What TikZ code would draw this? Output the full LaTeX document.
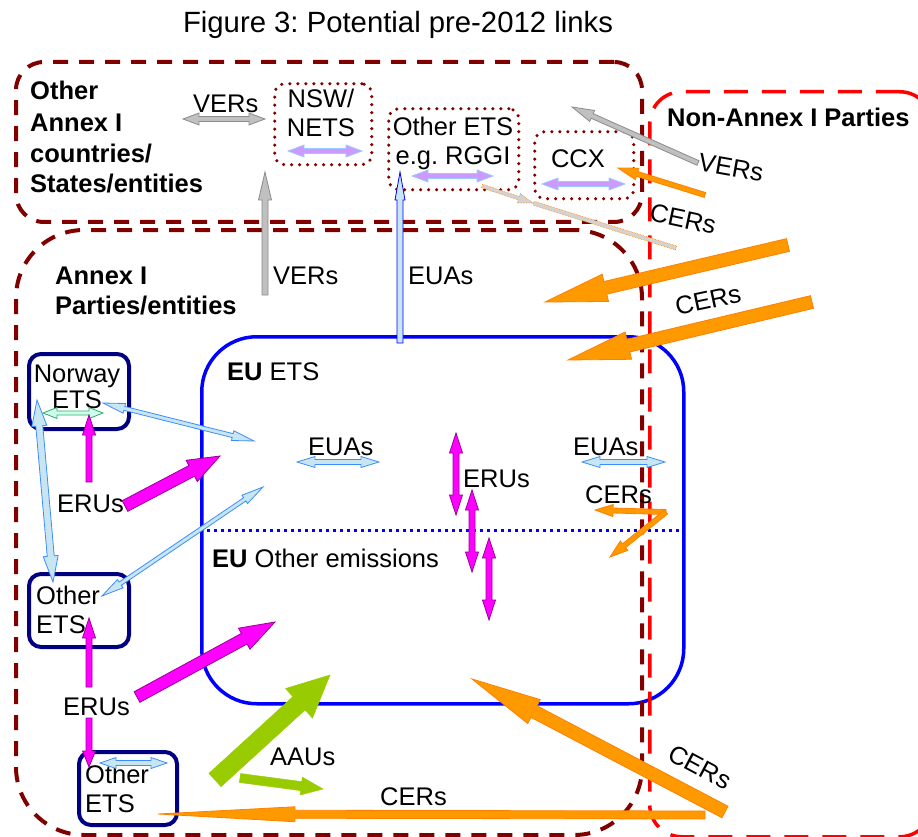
\documentclass[tikz,border=0pt]{standalone}
\usepackage{fontspec}
\setmainfont{Liberation Sans}
\frenchspacing
\usetikzlibrary{calc}
\definecolor{dred}{HTML}{800000}
\definecolor{navyb}{HTML}{000080}
\definecolor{orgf}{HTML}{FF9900}
\definecolor{orgd}{HTML}{FF8000}
\definecolor{magf}{HTML}{FF00FF}
\definecolor{magd}{HTML}{990099}
\definecolor{grf}{HTML}{C0C0C0}
\definecolor{grd}{HTML}{8C8C8C}
\definecolor{lbf}{HTML}{C8E6F2}
\definecolor{lbd}{HTML}{3C8CFF}
\definecolor{lavf}{HTML}{CC99FF}
\definecolor{lavd}{HTML}{99CCFF}
\definecolor{mintf}{HTML}{CCFFEE}
\definecolor{mintd}{HTML}{33AA66}
\definecolor{grn}{HTML}{99CC00}
\newcommand\sarrow[6]{%
  \coordinate (sah) at ($(#3)!#6!(#2)$);
  \draw[#1] ($(#2)!#4!90:(#3)$) -- ($(sah)!#4!90:(#3)$) -- ($(sah)!#5!90:(#3)$) -- (#3)
    -- ($(sah)!#5!-90:(#3)$) -- ($(sah)!#4!-90:(#3)$) -- ($(#2)!#4!-90:(#3)$) -- cycle;}
\newcommand\darrow[6]{%
  \coordinate (daa) at ($(#2)!#6!(#3)$);
  \coordinate (dab) at ($(#3)!#6!(#2)$);
  \draw[#1] (#2) -- ($(daa)!#5!90:(#3)$) -- ($(daa)!#4!90:(#3)$) -- ($(dab)!#4!90:(#3)$)
    -- ($(dab)!#5!90:(#3)$) -- (#3) -- ($(dab)!#5!-90:(#3)$) -- ($(dab)!#4!-90:(#3)$)
    -- ($(daa)!#4!-90:(#3)$) -- ($(daa)!#5!-90:(#3)$) -- cycle;}
\tikzset{
  lab/.style={font=\fontsize{25.5}{30}\selectfont, inner sep=0pt, anchor=base west},
  clab/.style={font=\fontsize{25.5}{30}\selectfont, inner sep=0pt, anchor=base},
  blab/.style={font=\fontsize{25.5}{30}\selectfont\bfseries, inner sep=0pt, anchor=base west},
  rlab/.style={font=\fontsize{25.5}{30}\selectfont, inner sep=0pt, anchor=center},
  dashbox/.style={draw=dred, line width=4pt, dash pattern=on 15pt off 11pt, rounded corners=#1, inner sep=0pt, anchor=north west},
  redbox/.style={draw=red, line width=3.5pt, dash pattern=on 24pt off 14pt, rounded corners=#1, inner sep=0pt, anchor=north west},
  dotbox/.style={draw=dred, line width=3.5pt, dash pattern=on 0pt off 8pt, line cap=round, rounded corners=10pt, inner sep=0pt, anchor=north west},
  etsbox/.style={draw=navyb, line width=4pt, rounded corners=12pt, inner sep=0pt, anchor=north west, minimum width=100pt, minimum height=74pt},
  oarr/.style={fill=orgf, draw=orgd, line width=0.8pt},
  marr/.style={fill=magf, draw=magd, line width=0.8pt},
  garr/.style={fill=grf, draw=grd, line width=0.8pt},
  barr/.style={fill=lbf, draw=lbd, line width=0.8pt},
  parr/.style={fill=lavf, draw=lavd, line width=0.8pt},
  tarr/.style={fill=mintf, draw=mintd, line width=0.8pt},
  gnarr/.style={fill=grn, draw=grn, line width=0.5pt},
}
\begin{document}
\begin{tikzpicture}[x=1pt,y=-1pt]
\useasboundingbox (0,0) rectangle (918,837);
\clip (0,0) rectangle (918,837);
% title
\node[font=\fontsize{29.3}{33}\selectfont, inner sep=0pt, anchor=base] (title) at (398,33) {Figure 3: Potential pre-2012 links};
% EU ETS box
\node[draw=blue, line width=3.5pt, rounded corners=55pt, inner sep=0pt, anchor=north west, minimum width=482pt, minimum height=367pt] (eu) at (200,335) {};
\coordinate (dl) at (200,530); \coordinate (dr) at (682,530);
\draw[blue, line width=3pt, dash pattern=on 3pt off 4pt] (dl) -- (dr);
% big dashed boxes
\node[dashbox=28pt, minimum width=626pt, minimum height=160pt] (topbox) at (14,60) {};
\node[dashbox=68pt, minimum width=626pt, minimum height=605pt] (annex) at (14,228) {};
\node[redbox=32pt, minimum width=282pt, minimum height=745pt] (nonannex) at (648,90) {};
% dotted boxes
\node[dotbox, minimum width=97pt, minimum height=81pt] (nsw) at (273,82) {};
\node[dotbox, minimum width=130pt, minimum height=81pt] (rggi) at (387,107) {};
\node[dotbox, minimum width=99pt, minimum height=67pt] (ccx) at (533,130) {};
% ETS boxes
\node[etsbox, minimum height=75pt] (norway) at (27,352) {};
\node[etsbox, minimum height=73pt] (oets1) at (27,572) {};
\node[etsbox, minimum width=98pt, minimum height=73pt] (oets2) at (77,750) {};
% texts
\node[blab] (t1) at (30,100) {Other};
\node[blab] (t2) at (30,132) {Annex I};
\node[blab] (t3) at (30,163) {countries/};
\node[blab] (t4) at (30,193) {States/entities};
\node[blab] (t5) at (55,284) {Annex I};
\node[blab] (t6) at (55,314) {Parties/entities};
\node[blab] (t7) at (667,127) {Non-Annex I Parties};
\node[clab] (nsw1) at (321,108) {NSW/};
\node[clab] (nsw2) at (321,137) {NETS};
\node[clab] (rg1) at (453,136) {Other ETS};
\node[clab] (rg2) at (453,165) {e.g. RGGI};
\node[clab] (cc1) at (578,168) {CCX};
\node[clab] (no1) at (77,382) {Norway};
\node[clab] (no2) at (77,408) {ETS};
\node[lab] (oe1) at (36,604) {Other};
\node[lab] (oe2) at (36,633) {ETS};
\node[lab] (of1) at (85,783) {Other};
\node[lab] (of2) at (85,812) {ETS};
\node[lab] (euets) at (227,380) {\textbf{EU} ETS};
\node[lab] (euoth) at (212,567) {\textbf{EU} Other emissions};
\node[lab] (l1) at (193,113) {VERs};
\node[lab] (l2) at (273,284) {VERs};
\node[lab] (l3) at (408,284) {EUAs};
\node[lab] (l4) at (308,455) {EUAs};
\node[lab] (l5) at (463,487) {ERUs};
\node[lab] (l6) at (573,455) {EUAs};
\node[lab] (l7) at (585,503) {CERs};
\node[lab] (l8) at (57,512) {ERUs};
\node[lab] (l9) at (63,715) {ERUs};
\node[lab] (l10) at (270,765) {AAUs};
\node[lab] (l11) at (380,805) {CERs};
\node[rlab, rotate=-10] (r1) at (731,168) {VERs};
\node[rlab, rotate=-12] (r2) at (683,219) {CERs};
\node[rlab, rotate=12] (r3) at (708,300) {CERs};
\node[rlab, rotate=-28] (r4) at (700,767) {CERs};
% arrow end points
\coordinate (va) at (183,119); \coordinate (vb) at (265,119);
\coordinate (vc) at (265,295); \coordinate (vd) at (265,172);
\coordinate (ea) at (400,343); \coordinate (eb) at (400,172);
\coordinate (pa) at (288,151); \coordinate (pb) at (362,151);
\coordinate (pc) at (412,176); \coordinate (pd) at (493,176);
\coordinate (pe) at (542,184); \coordinate (pf) at (625,184);
\coordinate (ga) at (698,163); \coordinate (gb) at (572,107);
\coordinate (oa) at (705,195); \coordinate (ob) at (618,168);
\coordinate (xa) at (482,186); \coordinate (xb) at (533,203); \coordinate (xc) at (676,248);
\coordinate (ba) at (788,245); \coordinate (bb) at (545,302);
\coordinate (bc) at (812,302); \coordinate (bd) at (568,360);
\coordinate (na) at (103,403); \coordinate (nb) at (254,441);
\coordinate (nc) at (37,400); \coordinate (nd) at (53,582);
\coordinate (ne) at (102,596); \coordinate (nf) at (263,487);
\coordinate (ma) at (43,413); \coordinate (mb) at (103,413);
\coordinate (ua) at (89,482); \coordinate (ub) at (89,415);
\coordinate (uc) at (125,506); \coordinate (ud) at (220,456);
\coordinate (qa) at (297,462); \coordinate (qb) at (379,462);
\coordinate (k1a) at (456,433); \coordinate (k1b) at (456,515);
\coordinate (k2a) at (472,490); \coordinate (k2b) at (472,572);
\coordinate (k3a) at (489,538); \coordinate (k3b) at (489,620);
\coordinate (qc) at (582,462); \coordinate (qd) at (665,462);
\coordinate (ca) at (666,512); \coordinate (cb) at (595,510); \coordinate (cc) at (610,557);
\coordinate (ue) at (89,687); \coordinate (uf) at (89,618);
\coordinate (ug) at (89,718); \coordinate (uh) at (89,767);
\coordinate (ui) at (137,697); \coordinate (uj) at (275,622);
\coordinate (gra) at (215,780); \coordinate (grb) at (330,675);
\coordinate (grc) at (240,778); \coordinate (grd) at (323,789);
\coordinate (lba) at (100,763); \coordinate (lbb) at (167,763);
\coordinate (la) at (705,815); \coordinate (lb) at (158,814);
\coordinate (bga) at (725,812); \coordinate (bgb) at (472,679);
% arrows
\darrow{garr}{va}{vb}{2.5pt}{6pt}{16pt}
\sarrow{garr}{vc}{vd}{3pt}{6.5pt}{28pt}
\sarrow{barr, draw=blue}{ea}{eb}{3pt}{5pt}{28pt}
\darrow{parr}{pa}{pb}{2.5pt}{6pt}{16pt}
\darrow{parr}{pc}{pd}{2.5pt}{6pt}{16pt}
\darrow{parr}{pe}{pf}{2.5pt}{6pt}{16pt}
\sarrow{garr}{ga}{gb}{2.5pt}{6pt}{22pt}
\sarrow{oarr}{oa}{ob}{2.5pt}{6pt}{20pt}
\sarrow{fill=grf!70, draw=orgd, line width=0.6pt, densely dotted}{xa}{xb}{1.8pt}{5pt}{15pt}
\sarrow{fill=grf!70, draw=orgd, line width=0.6pt, densely dotted}{xc}{xb}{2pt}{2pt}{1pt}
\sarrow{oarr}{ba}{bb}{6.5pt}{14pt}{62pt}
\sarrow{oarr}{bc}{bd}{6.5pt}{14pt}{62pt}
\darrow{barr}{na}{nb}{2pt}{5pt}{22pt}
\darrow{barr}{nc}{nd}{3.5pt}{7.5pt}{26pt}
\darrow{barr}{ne}{nf}{2pt}{5pt}{22pt}
\darrow{tarr}{ma}{mb}{2pt}{5.5pt}{14pt}
\sarrow{marr}{ua}{ub}{3pt}{6.5pt}{20pt}
\sarrow{marr}{uc}{ud}{6pt}{12pt}{32pt}
\darrow{barr}{qa}{qb}{2.5pt}{5.5pt}{18pt}
\darrow{marr}{k1a}{k1b}{3pt}{6.5pt}{20pt}
\darrow{marr}{k2a}{k2b}{3pt}{6.5pt}{20pt}
\darrow{marr}{k3a}{k3b}{3pt}{6.5pt}{20pt}
\darrow{barr}{qc}{qd}{2.5pt}{5.5pt}{18pt}
\sarrow{oarr}{ca}{cb}{2.5pt}{6pt}{18pt}
\sarrow{oarr}{ca}{cc}{2.5pt}{6pt}{18pt}
\sarrow{marr}{ue}{uf}{3pt}{6.5pt}{20pt}
\sarrow{marr}{ug}{uh}{3pt}{6.5pt}{16pt}
\sarrow{marr}{ui}{uj}{6pt}{12pt}{35pt}
\sarrow{gnarr}{gra}{grb}{9pt}{20pt}{42pt}
\sarrow{gnarr}{grc}{grd}{4.5pt}{9pt}{22pt}
\darrow{barr}{lba}{lbb}{2.5pt}{5.5pt}{16pt}
\sarrow{oarr}{la}{lb}{4pt}{7.5pt}{137pt}
\sarrow{oarr}{bga}{bgb}{6.5pt}{13.5pt}{70pt}
\end{tikzpicture}
\end{document}
